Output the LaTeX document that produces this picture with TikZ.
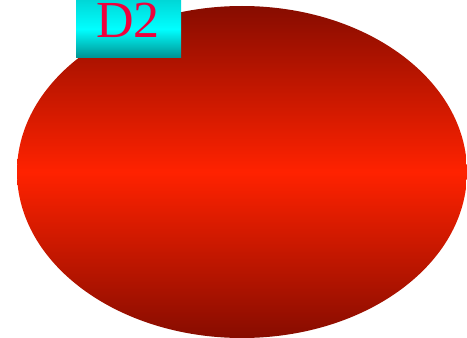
\documentclass[tikz,border=0pt]{standalone}
\usepackage{fontspec}
\setmainfont{Liberation Serif}
\usetikzlibrary{positioning,shapes.geometric}
\definecolor{blobdark}{RGB}{135,12,0}
\definecolor{blobmid}{RGB}{255,34,0}
\definecolor{tagtop}{RGB}{0,215,215}
\definecolor{tagbot}{RGB}{0,145,145}
\definecolor{tagtext}{RGB}{240,0,60}

\begin{document}
\begin{tikzpicture}[x=1pt, y=1pt,
    blob/.style={ellipse, minimum width=450pt, minimum height=332pt,
                 top color=blobdark, bottom color=blobdark, middle color=blobmid},
    tag/.style={rectangle, minimum width=105pt, minimum height=58pt, inner sep=0pt,
                top color=tagtop, bottom color=tagbot, middle color=cyan}]
    %
    \useasboundingbox (0,0) rectangle (467,338);
    %
    \node[blob] (disk) at (242,166) {};
    \node[tag]  (dtwo) at (128.5,309) {};
    \node[anchor=base, inner sep=0pt, text height=35pt, text depth=0pt,
          text=tagtext, font=\fontsize{52}{52}\selectfont]
        (dtwolabel) at (128,300) {D2};
\end{tikzpicture}
\end{document}
